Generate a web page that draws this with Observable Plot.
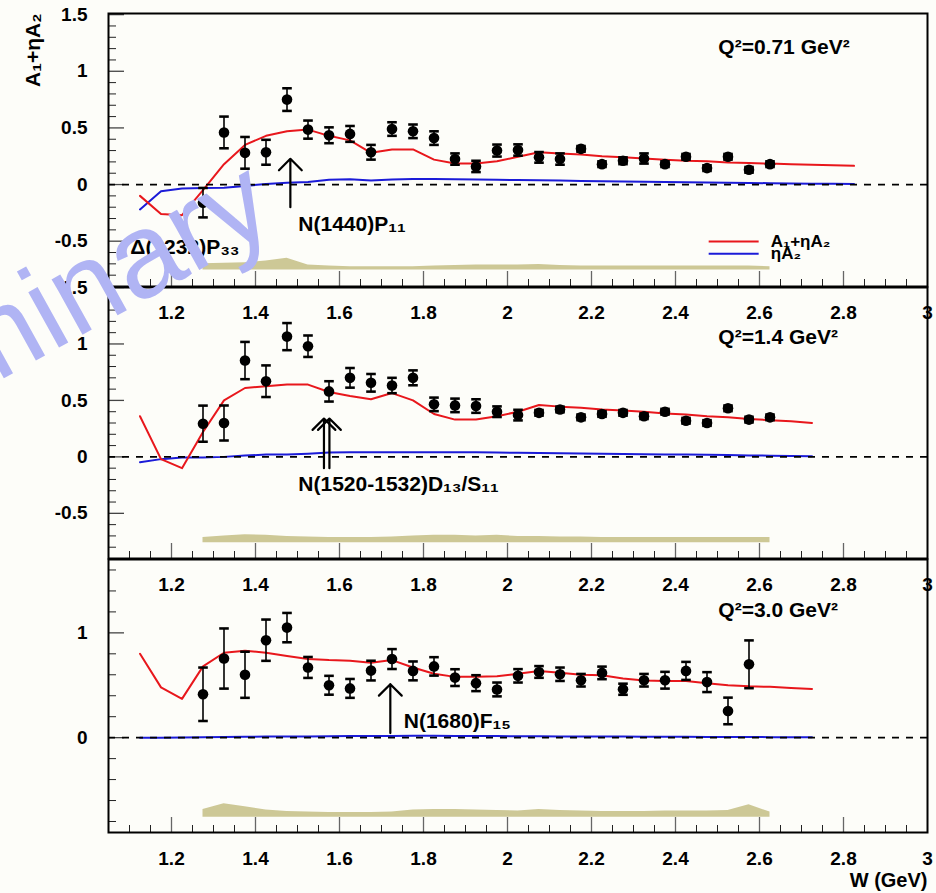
<!DOCTYPE html>
<html>
<head>
<meta charset="utf-8">
<script src="https://cdn.jsdelivr.net/npm/d3@7"></script>
<script src="https://cdn.jsdelivr.net/npm/@observablehq/plot@0.6"></script>
<style>
  html, body { margin: 0; padding: 0; background: #fdfdf9; }
  #chart { position: relative; width: 936px; height: 893px; overflow: hidden; }
  #chart svg { position: absolute; left: 0; }
</style>
</head>
<body>
<div id="chart"></div>
<script>
// Invariant mass W (GeV) of the measured bins and of the model curve
const W_POINTS = [1.275, 1.325, 1.375, 1.425, 1.475, 1.525, 1.575, 1.625, 1.675, 1.725,
  1.775, 1.825, 1.875, 1.925, 1.975, 2.025, 2.075, 2.125, 2.175, 2.225,
  2.275, 2.325, 2.375, 2.425, 2.475, 2.525, 2.575, 2.625];
const W_MODEL = [1.125, 1.175, 1.225, 1.275, 1.325, 1.375, 1.425, 1.475, 1.525, 1.575,
  1.625, 1.675, 1.725, 1.775, 1.825, 1.875, 1.925, 1.975, 2.025, 2.075,
  2.125, 2.175, 2.225, 2.275, 2.325, 2.375, 2.425, 2.475, 2.525, 2.575,
  2.625, 2.675, 2.725, 2.775, 2.825];

// Q^2 = 0.71 GeV^2
const Q071_A = [-0.16, 0.46, 0.28, 0.285, 0.75, 0.485, 0.435, 0.447, 0.285, 0.49,
  0.47, 0.41, 0.225, 0.16, 0.30, 0.305, 0.24, 0.225, 0.315, 0.18,
  0.21, 0.23, 0.18, 0.245, 0.145, 0.245, 0.13, 0.18];
const Q071_ERR = [0.13, 0.14, 0.14, 0.11, 0.10, 0.08, 0.07, 0.07, 0.065, 0.06,
  0.06, 0.06, 0.05, 0.05, 0.053, 0.05, 0.047, 0.05, 0.025, 0.025,
  0.03, 0.045, 0.025, 0.025, 0.025, 0.025, 0.025, 0.025];
const Q071_SYS = [0.055, 0.06, 0.065, 0.08, 0.105, 0.045, 0.035, 0.03, 0.03, 0.03,
  0.03, 0.035, 0.04, 0.045, 0.045, 0.045, 0.05, 0.04, 0.035, 0.035,
  0.035, 0.035, 0.035, 0.035, 0.035, 0.035, 0.035, 0.03];
const Q071_TOTAL = [-0.10, -0.26, -0.27, -0.05, 0.18, 0.35, 0.43, 0.47, 0.485, 0.43,
  0.39, 0.28, 0.31, 0.31, 0.22, 0.185, 0.185, 0.205, 0.245, 0.285,
  0.275, 0.265, 0.25, 0.24, 0.23, 0.22, 0.21, 0.205, 0.195, 0.19,
  0.185, 0.18, 0.175, 0.17, 0.165];
const Q071_ETA = [-0.22, -0.06, -0.035, -0.03, -0.028, -0.012, 0.005, 0.015, 0.022, 0.042,
  0.046, 0.036, 0.044, 0.048, 0.048, 0.046, 0.044, 0.042, 0.04, 0.038,
  0.035, 0.032, 0.03, 0.027, 0.025, 0.022, 0.02, 0.018, 0.016, 0.014,
  0.012, 0.01, 0.008, 0.006, 0.005];

// Q^2 = 1.4 GeV^2
const Q14_A = [0.294, 0.30, 0.853, 0.67, 1.065, 0.98, 0.58, 0.70, 0.656, 0.632,
  0.70, 0.465, 0.456, 0.45, 0.40, 0.37, 0.39, 0.42, 0.35, 0.38,
  0.39, 0.36, 0.40, 0.32, 0.30, 0.43, 0.33, 0.35];
const Q14_ERR = [0.16, 0.155, 0.165, 0.14, 0.12, 0.095, 0.09, 0.087, 0.078, 0.068,
  0.066, 0.06, 0.06, 0.06, 0.047, 0.047, 0.025, 0.025, 0.025, 0.025,
  0.025, 0.025, 0.025, 0.025, 0.025, 0.025, 0.025, 0.025];
const Q14_SYS = [0.045, 0.06, 0.07, 0.065, 0.055, 0.05, 0.045, 0.045, 0.045, 0.05,
  0.06, 0.065, 0.065, 0.06, 0.065, 0.055, 0.055, 0.05, 0.05, 0.045,
  0.045, 0.045, 0.045, 0.045, 0.045, 0.045, 0.045, 0.045];
const Q14_TOTAL = [0.36, -0.02, -0.10, 0.22, 0.50, 0.61, 0.625, 0.64, 0.64, 0.575,
  0.54, 0.51, 0.565, 0.50, 0.38, 0.33, 0.33, 0.36, 0.40, 0.46,
  0.445, 0.435, 0.42, 0.41, 0.40, 0.385, 0.375, 0.36, 0.35, 0.335,
  0.325, 0.315, 0.30];
const Q14_ETA = [-0.047, -0.02, -0.005, -0.005, 0.0, 0.012, 0.02, 0.022, 0.028, 0.038,
  0.04, 0.04, 0.04, 0.042, 0.042, 0.04, 0.04, 0.038, 0.036, 0.034,
  0.032, 0.03, 0.028, 0.026, 0.024, 0.022, 0.02, 0.018, 0.016, 0.013,
  0.011, 0.008, 0.006];

// Q^2 = 3.0 GeV^2
const Q30_A = [0.414, 0.755, 0.60, 0.93, 1.05, 0.67, 0.50, 0.47, 0.64, 0.75,
  0.637, 0.68, 0.573, 0.52, 0.46, 0.59, 0.627, 0.605, 0.548, 0.618,
  0.462, 0.548, 0.548, 0.637, 0.53, 0.255, 0.70];
const Q30_ERR = [0.255, 0.287, 0.22, 0.197, 0.14, 0.10, 0.09, 0.09, 0.094, 0.095,
  0.09, 0.088, 0.08, 0.076, 0.066, 0.064, 0.056, 0.064, 0.06, 0.06,
  0.053, 0.06, 0.08, 0.086, 0.095, 0.127, 0.228];
const Q30_SYS = [0.075, 0.13, 0.10, 0.07, 0.055, 0.05, 0.045, 0.045, 0.045, 0.05,
  0.07, 0.075, 0.075, 0.07, 0.065, 0.06, 0.075, 0.065, 0.06, 0.055,
  0.055, 0.055, 0.06, 0.06, 0.06, 0.065, 0.12, 0.05];
const Q30_TOTAL = [0.80, 0.48, 0.37, 0.68, 0.81, 0.83, 0.81, 0.78, 0.75, 0.74,
  0.735, 0.715, 0.74, 0.67, 0.61, 0.58, 0.58, 0.585, 0.61, 0.635,
  0.62, 0.60, 0.595, 0.565, 0.545, 0.54, 0.54, 0.52, 0.50, 0.49,
  0.485, 0.475, 0.465];
const Q30_ETA = [0.0, 0.0, 0.002, 0.004, 0.006, 0.008, 0.01, 0.012, 0.012, 0.014,
  0.015, 0.016, 0.017, 0.018, 0.018, 0.017, 0.016, 0.015, 0.014, 0.013,
  0.012, 0.011, 0.01, 0.01, 0.009, 0.008, 0.008, 0.007, 0.006, 0.006,
  0.005, 0.005, 0.004];

// Axis ticks and labels
const X_LABELS = [1.2, 1.4, 1.6, 1.8, 2, 2.2, 2.4, 2.6, 2.8, 3];
const X_MAJOR = [1.2, 1.4, 1.6, 1.8, 2.0, 2.2, 2.4, 2.6, 2.8];
const X_MINOR = d3.range(22, 60).map(k => k / 20).filter(x => Math.abs(x * 5 - Math.round(x * 5)) > 1e-6);
const Y_LABELS_A = [-0.5, 0, 0.5, 1, 1.5];
const Y_MAJOR_A = [-0.5, 0, 0.5, 1, 1.5];
const Y_MINOR_A = d3.range(-8, 15).map(k => k / 10).filter(y => Math.abs(y * 2 - Math.round(y * 2)) > 1e-6);
const Y_LABELS_B = [0, 1];
const Y_MAJOR_B = [0, 1];
const Y_MINOR_B = [-0.8, -0.6, -0.4, -0.2, 0.2, 0.4, 0.6, 0.8, 1.2, 1.4, 1.6];

// Resonance markers and labels
const ARROWS_071 = [{W: 1.483, from: -0.20, to: 0.227}];
const ARROWS_14 = [{W: 1.563, from: -0.10, to: 0.34}, {W: 1.576, from: -0.10, to: 0.34}];
const ARROWS_30 = [{W: 1.721, from: 0.044, to: 0.51}];
const LABELS_071 = [
  {W: 1.502, v: -0.347, text: "N(1440)P₁₁"},
  {W: 1.102, v: -0.553, text: "Δ(1232)P₃₃"},
  {W: 2.502, v: 1.21, text: "Q²=0.71 GeV²"}
];
const LABELS_14 = [
  {W: 1.502, v: -0.24, text: "N(1520-1532)D₁₃/S₁₁"},
  {W: 2.502, v: 1.06, text: "Q²=1.4 GeV²"}
];
const LABELS_30 = [
  {W: 1.753, v: 0.156, text: "N(1680)F₁₅"},
  {W: 2.502, v: 1.22, text: "Q²=3.0 GeV²"}
];
const LEGEND_ITEMS = [
  {label: "A₁+ηA₂", series: "total", v: -0.503},
  {label: "ηA₂", series: "eta", v: -0.61}
];

const RED = "#e8171c";
const BLUE = "#1b1bd8";
const BAND = "#cdc896";
const FONT = "'Liberation Sans', Arial, Helvetica, sans-serif";
const WIDTH = 936, M_LEFT = 108, M_RIGHT = 9;

function panel(p) {
  const innerW = WIDTH - M_LEFT - M_RIGHT;
  const innerH = p.height - p.marginTop - p.marginBottom;
  const pts = p.values.map((v, i) => ({W: W_POINTS[i], v, e: p.errors[i]}));
  const band = p.sys.map((s, i) => ({W: W_POINTS[i], lo: p.bandBase, hi: p.bandBase + s}));
  const model = p.total.map((v, i) => ({W: W_MODEL[i], total: v, eta: p.eta[i]}));
  const marks = [
    Plot.areaY(band, {x: "W", y1: "lo", y2: "hi", fill: BAND}),
    Plot.ruleX(X_MINOR, {x: d => d, insetTop: innerH - 7, stroke: "#222", strokeWidth: 1}),
    Plot.ruleX(X_MAJOR, {x: d => d, insetTop: innerH - 15, stroke: "#666", strokeWidth: 1.3}),
    Plot.ruleY(p.yMinor, {y: d => d, insetRight: innerW - 8, stroke: "#222", strokeWidth: 1}),
    Plot.ruleY(p.yMajor, {y: d => d, insetRight: innerW - 16, stroke: "#444", strokeWidth: 1.3}),
    Plot.axisX(X_LABELS, {tickSize: 0, tickPadding: 19, fontSize: 19, tickFormat: d => String(d), label: null}),
    Plot.axisY(p.yLabels, {tickSize: 0, tickPadding: 21, fontSize: 19, tickFormat: d => String(d), label: null}),
    Plot.line(model, {x: "W", y: "eta", stroke: BLUE, strokeWidth: 2}),
    Plot.line(model, {x: "W", y: "total", stroke: RED, strokeWidth: 2}),
    Plot.ruleY([0], {stroke: "black", strokeWidth: 1.8, strokeDasharray: "7,7"}),
    Plot.link(pts, {x1: "W", x2: "W", y1: d => d.v - d.e, y2: d => d.v + d.e,
      stroke: "black", strokeWidth: 1.6, markerStart: "tick", markerEnd: "tick"}),
    Plot.dot(pts, {x: "W", y: "v", r: 5.3, fill: "black"}),
    Plot.arrow(p.arrows, {x1: "W", x2: "W", y1: "from", y2: "to", stroke: "black",
      strokeWidth: 2.2, headLength: 11, headAngle: 90}),
    Plot.text(p.labels, {x: "W", y: "v", text: "text", textAnchor: "start", lineAnchor: "middle",
      fontSize: 21, fill: "black"}),
    Plot.frame({stroke: "black", strokeWidth: 2}),
    ...(p.extra || [])
  ];
  const svg = Plot.plot({
    width: WIDTH, height: p.height,
    marginLeft: M_LEFT, marginRight: M_RIGHT, marginTop: p.marginTop, marginBottom: p.marginBottom,
    style: `background: transparent; overflow: visible; font-family: ${FONT}; font-weight: bold; color: black;`,
    x: {domain: [1.05, 3.0], axis: null, label: null},
    y: {domain: p.yDomain, axis: null, label: null},
    marks
  });
  svg.style.top = p.top + "px";
  return svg;
}

const legendSwatches = LEGEND_ITEMS.map(d => ({...d, x1: 2.479, x2: 2.598, xt: 2.627}));

const chart = document.getElementById("chart");

chart.append(panel({
  top: 0, height: 326, marginTop: 13, marginBottom: 40, yDomain: [-0.9, 1.51],
  values: Q071_A, errors: Q071_ERR, sys: Q071_SYS, bandBase: -0.755,
  total: Q071_TOTAL, eta: Q071_ETA,
  yLabels: Y_LABELS_A, yMajor: Y_MAJOR_A, yMinor: Y_MINOR_A,
  arrows: ARROWS_071, labels: LABELS_071,
  extra: [
    Plot.link(legendSwatches, {x1: "x1", x2: "x2", y1: "v", y2: "v",
      stroke: d => d.series === "total" ? RED : BLUE, strokeWidth: 2}),
    Plot.text(legendSwatches, {x: "xt", y: "v", text: "label", textAnchor: "start",
      lineAnchor: "middle", fontSize: 17}),
    Plot.text(["A₁+ηA₂"], {text: d => d, frameAnchor: "top-left", dx: -75, rotate: -90,
      textAnchor: "end", lineAnchor: "middle", fontSize: 21})
  ]
}));

chart.append(panel({
  top: 267, height: 331, marginTop: 20, marginBottom: 40, yDomain: [-0.9, 1.5],
  values: Q14_A, errors: Q14_ERR, sys: Q14_SYS, bandBase: -0.76,
  total: Q14_TOTAL, eta: Q14_ETA,
  yLabels: Y_LABELS_A, yMajor: Y_MAJOR_A, yMinor: Y_MINOR_A,
  arrows: ARROWS_14, labels: LABELS_14,
  extra: [
    Plot.text(["Preliminary"], {text: d => d, frameAnchor: "top-left", dx: 171, dy: -62,
      rotate: -29, textAnchor: "end", lineAnchor: "bottom", fontSize: 120,
      fontWeight: "normal", fill: "#b0b4f4"})
  ]
}));

chart.append(panel({
  top: 539, height: 354, marginTop: 20, marginBottom: 61, yDomain: [-0.905, 1.70],
  values: Q30_A, errors: Q30_ERR, sys: Q30_SYS, bandBase: -0.76,
  total: Q30_TOTAL, eta: Q30_ETA,
  yLabels: Y_LABELS_B, yMajor: Y_MAJOR_B, yMinor: Y_MINOR_B,
  arrows: ARROWS_30, labels: LABELS_30,
  extra: [
    Plot.text(["W (GeV)"], {text: d => d, frameAnchor: "bottom-right", dy: 48,
      textAnchor: "end", lineAnchor: "middle", fontSize: 20})
  ]
}));
</script>
</body>
</html>
